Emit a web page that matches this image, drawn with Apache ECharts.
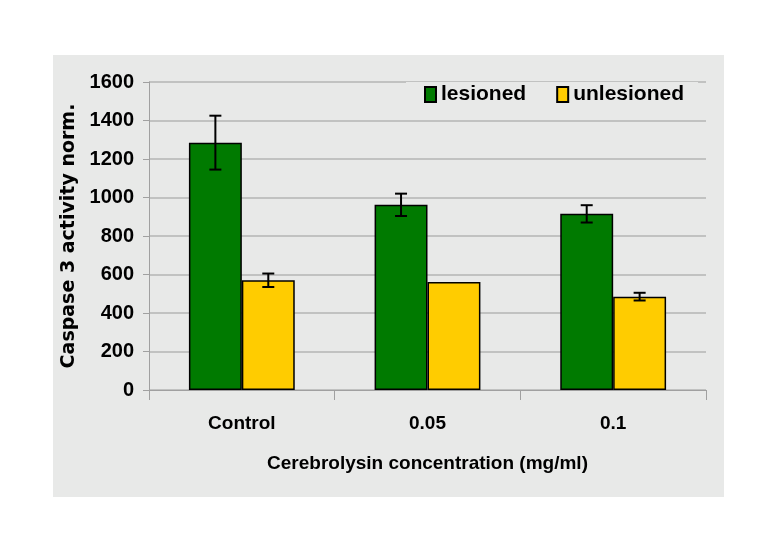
<!DOCTYPE html>
<html>
<head>
<meta charset="utf-8">
<script src="https://cdn.jsdelivr.net/npm/echarts@6/dist/echarts.min.js"></script>
<style>
  html, body { margin: 0; padding: 0; background: #fff; }
  #panel { position: absolute; left: 53px; top: 55px; width: 671px; height: 442px; background: #e8e9e8; }
  #chart { position: absolute; left: 0; top: 0; width: 779px; height: 551px; }
</style>
</head>
<body>
<div id="panel"></div>
<div id="chart"></div>
<script>
// --- adatok ---
const categories = ['Control', '0.05', '0.1'];
const lesioned = [1285, 962, 915];
const lesionedErr = [140, 58, 45];
const unlesioned = [570, 561, 485];
const unlesionedErr = [35, 0, 20];
const yTicks = { min: 0, max: 1600, interval: 200 };

const FONT = "'Liberation Sans Narrow', 'Liberation Sans', Arial, sans-serif";
const GREEN = '#007a00';
const YELLOW = '#ffcc00';

// hibasav: [kategoria index, ertek, hiba, sorozat index]
const errData = [];
lesioned.forEach((v, i) => errData.push([i, v, lesionedErr[i], 0]));
unlesioned.forEach((v, i) => errData.push([i, v, unlesionedErr[i], 1]));

function renderErr(params, api) {
    const idx = api.value(0);
    const val = api.value(1);
    const err = api.value(2);
    const which = api.value(3);
    if (!err) return;
    const band = api.size([1, 0])[0];
    const barW = band * 0.285;
    const c = api.coord([idx, val]);
    const x = c[0] + (which === 0 ? -barW / 2 : barW / 2);
    const top = api.coord([idx, val + err])[1];
    const bot = api.coord([idx, val - err])[1];
    const cap = 6;
    const style = { stroke: '#000', lineWidth: 2 };
    return {
        type: 'group',
        children: [
            { type: 'line', shape: { x1: x, y1: top, x2: x, y2: bot }, style },
            { type: 'line', shape: { x1: x - cap, y1: top, x2: x + cap, y2: top }, style },
            { type: 'line', shape: { x1: x - cap, y1: bot, x2: x + cap, y2: bot }, style }
        ]
    };
}

const chart = echarts.init(document.getElementById('chart'));
chart.setOption({
    animation: false,
    grid: { left: 149, right: 73, top: 82, bottom: 161 },
    legend: {
        left: 406, top: 82,
        itemWidth: 11, itemHeight: 15, itemGap: 30,
        icon: 'rect',
        backgroundColor: '#e8e9e8',
        padding: [2, 14, 2, 18],
        textStyle: { fontFamily: FONT, fontSize: 21, fontWeight: 'bold', color: '#000' },
        data: ['lesioned', 'unlesioned']
    },
    xAxis: {
        type: 'category',
        data: categories,
        axisLine: { lineStyle: { color: '#a0a0a0', width: 1 } },
        axisTick: { show: true, length: 10, lineStyle: { color: '#a0a0a0' } },
        axisLabel: { margin: 24, fontFamily: FONT, fontSize: 19, fontWeight: 'bold', color: '#000' },
        name: 'Cerebrolysin concentration (mg/ml)',
        nameLocation: 'middle',
        nameGap: 64,
        nameTextStyle: { fontFamily: FONT, fontSize: 19, fontWeight: 'bold', color: '#000' }
    },
    yAxis: {
        type: 'value',
        min: yTicks.min, max: yTicks.max, interval: yTicks.interval,
        axisLine: { show: true, lineStyle: { color: '#a0a0a0', width: 1 } },
        axisTick: { show: true, length: 6, lineStyle: { color: '#a0a0a0' } },
        splitLine: { lineStyle: { color: '#b4b4b4', width: 1.5 } },
        axisLabel: {
            margin: 15, fontFamily: FONT, fontSize: 20, fontWeight: 'bold', color: '#000',
            formatter: v => String(v)
        },
        name: 'Caspase 3 activity norm.',
        nameLocation: 'middle',
        nameGap: 58,
        nameTextStyle: { fontFamily: "'DejaVu Sans', sans-serif", fontSize: 19, fontWeight: 'bold', color: '#000' }
    },
    series: [
        {
            name: 'lesioned', type: 'bar', data: lesioned,
            barGap: '0%', barCategoryGap: '43%',
            itemStyle: { color: GREEN, borderColor: '#000', borderWidth: 1.5 }
        },
        {
            name: 'unlesioned', type: 'bar', data: unlesioned,
            barGap: '0%', barCategoryGap: '43%',
            itemStyle: { color: YELLOW, borderColor: '#000', borderWidth: 1.5 }
        },
        {
            type: 'custom', renderItem: renderErr, data: errData,
            z: 10, silent: true
        }
    ]
});
</script>
</body>
</html>
